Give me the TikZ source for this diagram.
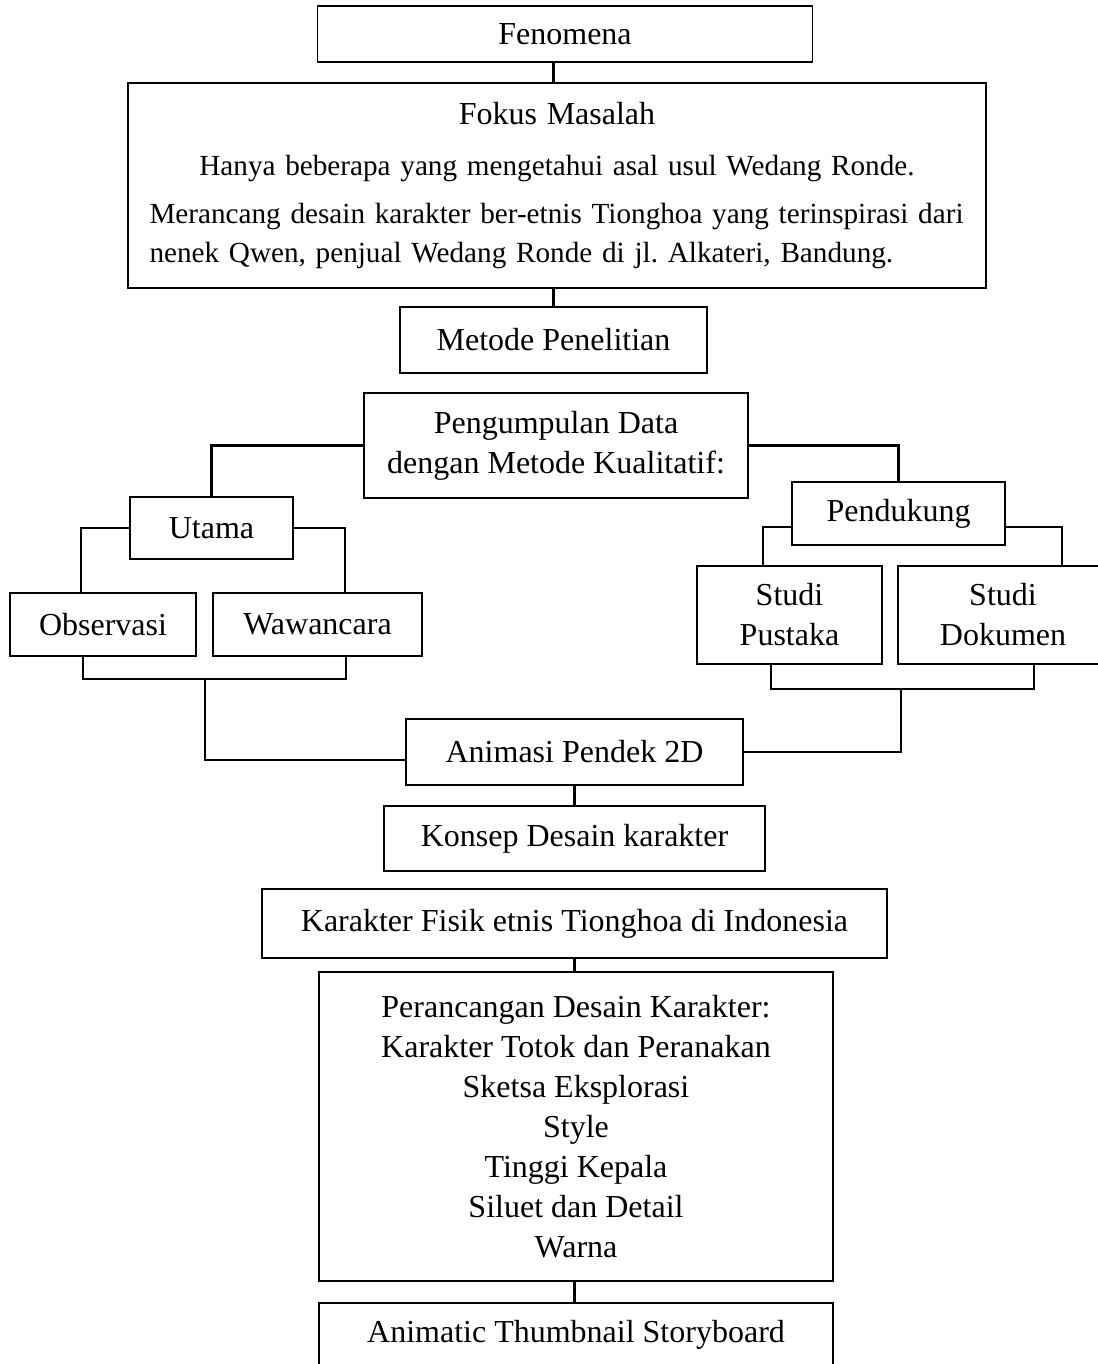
\documentclass[tikz,border=0pt]{standalone}
\usepackage{fontspec}
\setmainfont{Liberation Serif}
\begin{document}
\begin{tikzpicture}
        [x=0.5pt, y=-0.5pt,
        box/.style={rectangle, draw, line width=0.6pt, align=center, inner sep=0pt, font=\fontsize{16}{20}\selectfont},
        link/.style={black, line width=1.1pt}]

        \useasboundingbox (0,0) rectangle (1097,1364);

        \node[box, minimum width=247.5pt, minimum height=28pt] (fen) at (565,34) {Fenomena};
        \node[box, minimum width=429pt, minimum height=102.5pt, text width=407.5pt, font=\fontsize{14.6}{19.5}\selectfont] (fokus) at (557,185.5)
            {{\fontsize{16}{20}\selectfont Fokus Masalah}\\[6pt]
             Hanya beberapa yang mengetahui asal usul Wedang Ronde.\\[4.5pt]
             \parbox[t]{407.5pt}{Merancang desain karakter ber-etnis Tionghoa yang terinspirasi dari nenek Qwen, penjual Wedang Ronde di jl.\ Alkateri, Bandung.}};
        \node[box, minimum width=153.5pt, minimum height=33pt] (metode) at (553.5,340) {Metode Penelitian};
        \node[box, minimum width=192pt, minimum height=52.5pt] (peng) at (556,445.5) {Pengumpulan Data\\dengan Metode Kualitatif:};

        \node[box, minimum width=81.5pt, minimum height=31pt] (utama) at (211.5,528) {Utama};
        \node[box, minimum width=93pt, minimum height=31.5pt] (obs) at (103,624.5) {Observasi};
        \node[box, minimum width=104.5pt, minimum height=31.5pt] (waw) at (317.5,624.5) {Wawancara};

        \node[box, minimum width=106.5pt, minimum height=31.5pt] (pend) at (898.5,513.5) {Pendukung};
        \node[box, minimum width=92.5pt, minimum height=49pt] (pust) at (789.5,615) {Studi\\Pustaka};
        \node[box, minimum width=105pt, minimum height=49pt] (doku) at (1003,615) {Studi\\Dokumen};

        \node[box, minimum width=168.5pt, minimum height=33pt] (anim) at (574.5,752) {Animasi Pendek 2D};
        \node[box, minimum width=190.5pt, minimum height=32.5pt] (konsep) at (574.5,838.5) {Konsep Desain karakter};
        \node[box, minimum width=312.5pt, minimum height=34.5pt] (fisik) at (574.5,923.5) {Karakter Fisik etnis Tionghoa di Indonesia};
        \node[box, minimum width=257pt, minimum height=154.5pt] (peran) at (576,1126.5)
            {Perancangan Desain Karakter:\\Karakter Totok dan Peranakan\\Sketsa Eksplorasi\\Style\\Tinggi Kepala\\Siluet dan Detail\\Warna};
        \node[box, minimum width=257pt, minimum height=32pt] (anima) at (576,1335) {Animatic Thumbnail Storyboard};

        % top chain
        \draw[link] (fen.south -| metode.north) -- (fokus.north -| metode.north);
        \draw[link] (fokus.south -| metode.north) -- (metode.north);

        % branches of the data collection
        \draw[link] (peng.west) -| (utama.north);
        \draw[link] (peng.east) -| (pend.north);
        \draw[link] (utama.west) -| ([xshift=-11pt]obs.north);
        \draw[link] (utama.east) -| ([xshift=13.75pt]waw.north);
        \draw[link] ([yshift=-6.75pt]pend.west) -| ([xshift=-13.25pt]pust.north);
        \draw[link] ([yshift=-6.75pt]pend.east) -| ([xshift=29.5pt]doku.north);

        % join the lower boxes back together
        \draw[link] ([xshift=-10pt]obs.south) -- ++(0,22) -| ([xshift=14.25pt]waw.south);
        \draw[link] ([xshift=-9.25pt]pust.south) -- ++(0,24) -| ([xshift=15.5pt]doku.south);

        \coordinate (jL) at (205,678);
        \coordinate (jR) at (901,688);
        \draw[link] (jL) |- ([yshift=-4pt]anim.west);
        \draw[link] (jR) |- (anim.east);

        % bottom chain
        \draw[link] (anim.south) -- (konsep.north);
        \draw[link] (fisik.south) -- (fisik.south |- peran.north);
        \draw[link] (fisik.south |- peran.south) -- (fisik.south |- anima.north);
    \end{tikzpicture}
\end{document}
